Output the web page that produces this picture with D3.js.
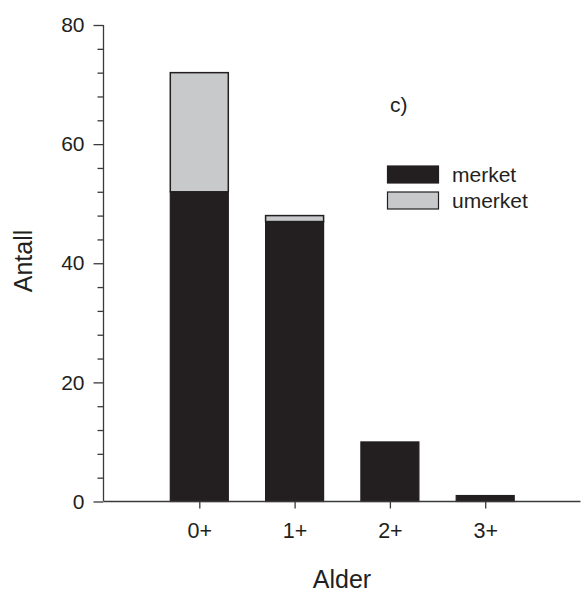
<!DOCTYPE html>
<html>
<head>
<meta charset="utf-8">
<script src="https://cdn.jsdelivr.net/npm/d3@7"></script>
<style>
body{margin:0;background:#fff;}
svg{display:block;font-family:Arial,"Liberation Sans",sans-serif;}
</style>
</head>
<body>
<svg id="chart" width="581" height="594"></svg>
<script>
const categories = ["0+","1+","2+","3+"];
const merket = [52,47,10,1];
const umerket = [20,1,0,0];
const seriesNames = ["merket","umerket"];
const yMajorTicks = [0,20,40,60,80];
const panelLabel = "c)";

const colors = {merket:"#231f20", umerket:"#c8c9cb"};
const ink = "#231f20";

const svg = d3.select("#chart");
const x = d3.scaleLinear().domain([0,5]).range([104,580.5]);
const y = d3.scaleLinear().domain([0,80]).range([501.5,25]);
const barW = 58;

// bars
const g = svg.append("g");
categories.forEach((c,i)=>{
  const cx = x(i+1);
  const m = merket[i], u = umerket[i];
  g.append("rect").attr("x",cx-barW/2).attr("y",y(m)).attr("width",barW).attr("height",y(0)-y(m))
    .attr("fill",colors.merket).attr("stroke",ink).attr("stroke-width",1.2);
  if(u>0){
    g.append("rect").attr("x",cx-barW/2).attr("y",y(m+u)).attr("width",barW).attr("height",y(m)-y(m+u))
      .attr("fill",colors.umerket).attr("stroke",ink).attr("stroke-width",1.5);
  }
});

// y axis
const yAxis = d3.axisLeft(y).tickValues(yMajorTicks).tickSize(10).tickPadding(9).tickFormat(d3.format("d"));
const ya = svg.append("g").attr("transform","translate(103.5,0)").call(yAxis);
const minorVals = d3.range(0,81,4).filter(v=>v%20!==0);
const yMinor = d3.axisLeft(y).tickValues(minorVals).tickSize(6).tickFormat("");
const ym = svg.append("g").attr("transform","translate(103.5,0)").call(yMinor);
ym.select(".domain").remove();
[ya,ym].forEach(a=>{
  a.selectAll("path,line").attr("stroke","#3a3a3a").attr("stroke-width",1.3);
});
ya.select(".domain").attr("d","M0,"+y(80)+"V"+y(0));
ya.selectAll("text").attr("font-size",21).attr("fill",ink).attr("font-family","Arial,'Liberation Sans',sans-serif");

// x axis
const xAxis = d3.axisBottom(x).tickValues([1,2,3,4]).tickSize(7).tickPadding(14).tickFormat(d=>categories[d-1]);
const xa = svg.append("g").attr("transform","translate(0,"+y(0)+")").call(xAxis);
xa.select(".domain").attr("d","M"+x(0)+",0H"+x(5));
xa.selectAll("path,line").attr("stroke","#3a3a3a").attr("stroke-width",1.3);
xa.selectAll("text").attr("font-size",21.5).attr("fill",ink).attr("font-family","Arial,'Liberation Sans',sans-serif");

// axis titles
svg.append("text").attr("x",342).attr("y",588).attr("text-anchor","middle")
  .attr("font-size",25).attr("fill",ink).text("Alder");
svg.append("text").attr("transform","translate(32,261) rotate(-90)").attr("text-anchor","middle")
  .attr("font-size",25).attr("fill",ink).text("Antall");

// panel label
svg.append("text").attr("x",390).attr("y",112).attr("font-size",21).attr("fill",ink).text(panelLabel);

// legend
const leg = svg.append("g");
seriesNames.forEach((s,i)=>{
  const yy = 166 + i*26;
  leg.append("rect").attr("x",387.5).attr("y",yy).attr("width",51).attr("height",17)
    .attr("fill",colors[s]).attr("stroke",ink).attr("stroke-width",1.2);
  leg.append("text").attr("x",452).attr("y",yy+16).attr("font-size",21).attr("fill",ink).text(s);
});
</script>
</body>
</html>
